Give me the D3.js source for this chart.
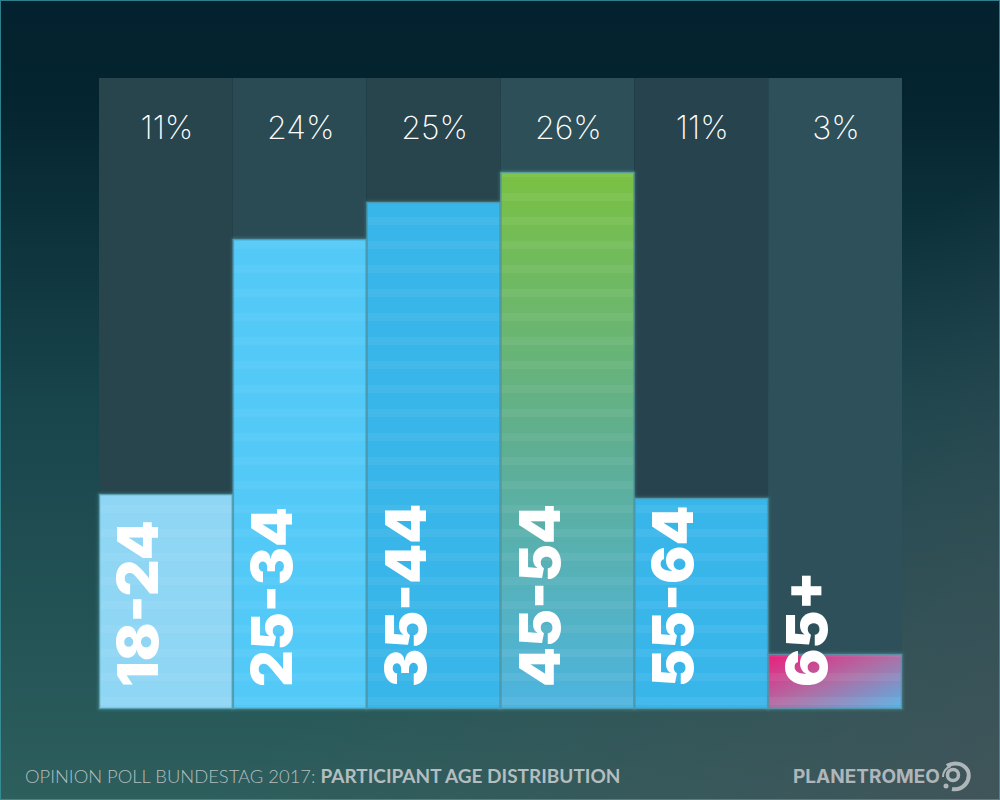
<!DOCTYPE html>
<html><head><meta charset="utf-8">
<style>html,body{margin:0;padding:0;background:#03222f}svg{display:block}</style>
<script src="https://cdn.jsdelivr.net/npm/d3@7/dist/d3.min.js"></script>
</head><body><svg id="c" width="1000" height="800"></svg>
<script>
const categories=["18-24","25-34","35-44","45-54","55-64","65+"];
const shares=[10.75,23.5,25.35,26.85,10.55,2.75];
const shareLabels=["11%","24%","25%","26%","11%","3%"];
const titleLight="OPINION POLL BUNDESTAG 2017: ";
const titleBold="PARTICIPANT AGE DISTRIBUTION";
const brand="PLANETROMEO";

const svg=d3.select("#c"),defs=svg.append("defs");
const x=d3.scaleBand().domain(categories).range([99,902]);
const y=d3.scaleLinear().domain([0,31.55]).range([709,78]);

function grad(id,x1,y1,x2,y2,stops){
  const g=defs.append("linearGradient").attr("id",id).attr("x1",x1).attr("y1",y1).attr("x2",x2).attr("y2",y2);
  stops.forEach(s=>g.append("stop").attr("offset",s[0]).attr("stop-color",s[1]));
}
grad("bgV",0,0,0,1,[[0,"#03212e"],[.12,"#04242f"],[.5,"#18444c"],[1,"#2d5f5d"]]);
grad("bgD","0.6","0.6",1,1,[[0,"#4a4f58"],[1,"#4a4f58"]]);
defs.select("#bgD").selectAll("stop").attr("stop-opacity",(d,i)=>i?0.65:0);
grad("b0",0,0,0,1,[[0,"#8fd6f4"],[1,"#8fd6f4"]]);
grad("b1",0,0,0,1,[[0,"#52c9f7"],[1,"#52c9f7"]]);
grad("b2",0,0,0,1,[[0,"#38b5e9"],[1,"#38b5e9"]]);
grad("b3",0,0,0,1,[[0,"#7ac143"],[.5,"#5fae90"],[1,"#4db4e0"]]);
grad("b4",0,0,0,1,[[0,"#38b6ea"],[1,"#38b6ea"]]);
grad("b5",0,0,1,1,[[0,"#ec1e7b"],[.5,"#ad6fa6"],[1,"#55b3e6"]]);

const pat=defs.append("pattern").attr("id","stripes").attr("patternUnits","userSpaceOnUse")
  .attr("width",10).attr("height",24).attr("y",1);
pat.append("rect").attr("width",10).attr("height",8).attr("fill","#fff").attr("fill-opacity",.055);

const glow=defs.append("filter").attr("id","glow").attr("x","-10%").attr("y","-10%").attr("width","120%").attr("height","120%");
glow.append("feGaussianBlur").attr("stdDeviation",1.5);

svg.append("rect").attr("width",1000).attr("height",800).attr("fill","url(#bgV)");
svg.append("rect").attr("width",1000).attr("height",800).attr("fill","url(#bgD)");
svg.append("rect").attr("x",.5).attr("y",.5).attr("width",999).attr("height",799)
  .attr("fill","none").attr("stroke","#3a97a3").attr("stroke-opacity",.8);

const panelFill=["#28444c","#2b4b54","#28444c","#2d4f58","#27434d","#2e505a"];
svg.append("g").selectAll("rect").data(categories).join("rect")
  .attr("x",d=>x(d)).attr("y",y(31.55)).attr("width",x.bandwidth()).attr("height",y(0)-y(31.55))
  .attr("fill",(d,i)=>panelFill[i]);

svg.append("g").attr("filter","url(#glow)").selectAll("rect").data(categories).join("rect")
  .attr("x",d=>x(d)).attr("y",(d,i)=>y(shares[i])).attr("width",x.bandwidth()).attr("height",(d,i)=>y(0)-y(shares[i]))
  .attr("fill","none").attr("stroke","#6fd0dc").attr("stroke-width",1.5).attr("stroke-opacity",.4);

const bars=svg.append("g").selectAll("g").data(categories).join("g");
bars.append("rect").attr("x",d=>x(d)).attr("y",(d,i)=>y(shares[i])).attr("width",x.bandwidth()).attr("height",(d,i)=>y(0)-y(shares[i]))
  .attr("fill",(d,i)=>`url(#b${i})`);
bars.append("rect").attr("x",d=>x(d)).attr("y",(d,i)=>y(shares[i])).attr("width",x.bandwidth()).attr("height",(d,i)=>y(0)-y(shares[i]))
  .attr("fill","url(#stripes)");
bars.append("rect").attr("x",d=>x(d)+.5).attr("y",(d,i)=>y(shares[i])+.5).attr("width",x.bandwidth()-1).attr("height",(d,i)=>y(0)-y(shares[i])-1)
  .attr("fill","none").attr("stroke","#4f95a5").attr("stroke-width",1.5).attr("stroke-opacity",.85);

svg.append("g").selectAll("text").data(categories).join("text")
  .attr("x",d=>x(d)+x.bandwidth()/2+1).attr("y",139)
  .attr("text-anchor","middle").attr("fill","#fff")
  .style("font-family","Inter").style("font-weight",200).style("font-size","32px")
  .text((d,i)=>shareLabels[i]);

svg.append("g").selectAll("text").data(categories).join("text")
  .attr("transform",d=>`translate(${x(d)+59},687) rotate(-90)`)
  .attr("fill","#fff")
  .style("font-family","Inter").style("font-weight",900).style("font-size","57px")
  .text(d=>d);

const t=svg.append("text").attr("x",25).attr("y",783).attr("fill","#b4bdbf")
  .style("font-family","Lato");
t.append("tspan").style("font-weight",300).style("font-size","18.4px").text(titleLight);
t.append("tspan").style("font-weight",700).style("font-size","19px").text(titleBold);

svg.append("text").attr("x",793).attr("y",783).attr("fill","#aeb6ba")
  .style("font-family","Inter").style("font-weight",700).style("font-size","19px").text(brand);
const logo=svg.append("g").attr("transform","translate(955,776)").attr("fill","none").attr("stroke","#aeb6ba");
logo.append("circle").attr("cx",-2).attr("cy",-1).attr("r",5.5).attr("stroke-width",3.5);
logo.append("path").attr("d","M-8 -10A14 13 0 0 1 13 -5A14 14 0 0 1 -3 13").attr("stroke-width",4);
logo.append("path").attr("d","M-12 1A11 11 0 0 1 -4 -10").attr("stroke-width",2);
logo.append("circle").attr("cx",-9).attr("cy",10).attr("r",2.5).attr("fill","#aeb6ba").attr("stroke","none");
</script></body></html>
